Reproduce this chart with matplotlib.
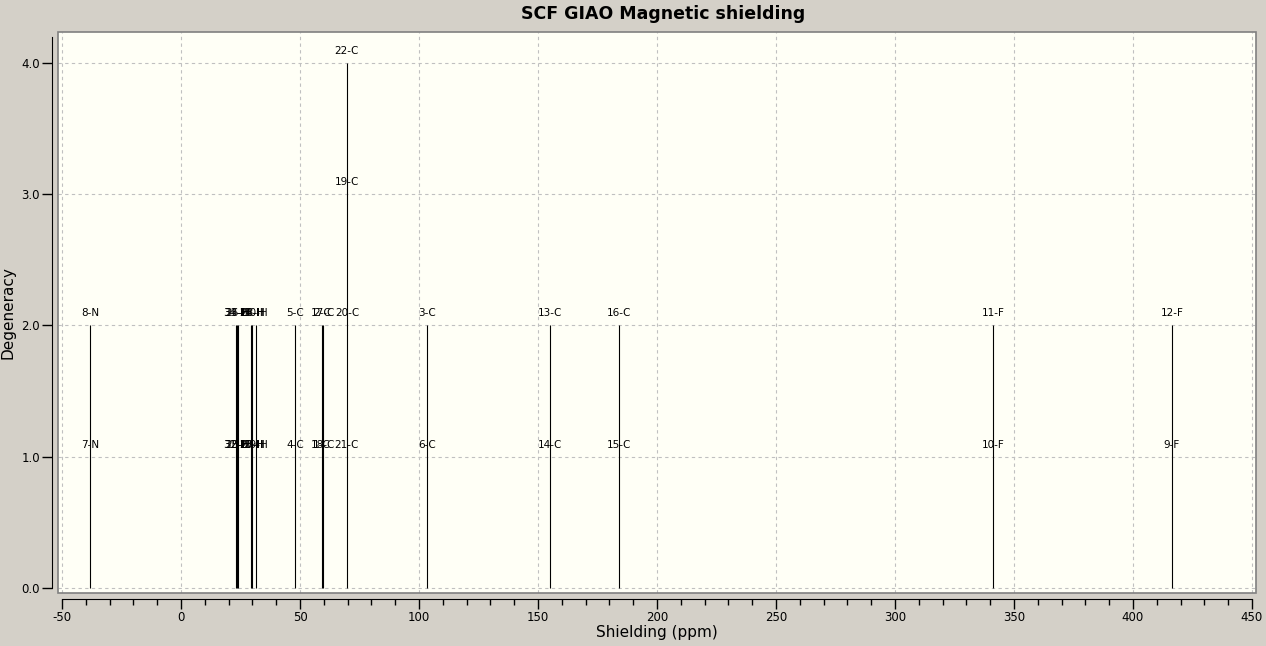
import numpy as np
import matplotlib.pyplot as plt
from matplotlib.patches import Rectangle

plt.rcParams["axes.unicode_minus"] = False

# peak positions (ppm) and the atoms sitting on each one (stacked = degeneracy)
peak_ppm = [-38.2, 23.1, 23.5, 23.9, 29.6, 30.0, 31.4, 48.0, 59.2, 59.7,
            69.7, 103.4, 155.0, 184.0, 341.2, 416.4]
peak_atoms = [
    ["7-N", "8-N"],
    ["31-H", "34-H"],
    ["32-H", "33-H"],
    ["25-H", "26-H"],
    ["23-H", "24-H"],
    ["27-H", "28-H"],
    ["29-H", "30-H"],
    ["4-C", "5-C"],
    ["1-C", "2-C"],
    ["18-C", "17-C"],
    ["21-C", "20-C", "19-C", "22-C"],
    ["6-C", "3-C"],
    ["14-C", "13-C"],
    ["15-C", "16-C"],
    ["10-F", "11-F"],
    ["9-F", "12-F"],
]
degeneracy = [len(a) for a in peak_atoms]

x_ticks = np.arange(-50, 451, 50)
y_ticks = [0.0, 1.0, 2.0, 3.0, 4.0]

W, H = 1266, 646
fig = plt.figure(figsize=(W / 100, H / 100), dpi=100)
fig.patch.set_facecolor("#D4D0C8")

# plot area in pixels: left 58, top 32, right 1256, bottom 593
ax = fig.add_axes([58 / W, 1 - 593 / H, (1256 - 58) / W, (593 - 32) / H])
ax.set_facecolor("#FFFFF6")
ax.set_xlim(-51.7, 451.7)
ax.set_ylim(-0.04, 4.235)

ax.grid(True, color="#C0C0C0", linestyle=(0, (3, 3)), linewidth=0.8)
ax.set_axisbelow(True)

ax.vlines(peak_ppm, 0, degeneracy, color="black", linewidth=0.8)
for x, atoms in zip(peak_ppm, peak_atoms):
    for k, lab in enumerate(atoms):
        ax.annotate(lab, (x, k + 1), xytext=(0, 7), textcoords="offset pixels",
                    ha="center", va="bottom", fontsize=7.5)

for s in ["top", "right"]:
    ax.spines[s].set_visible(False)
ax.spines["bottom"].set_position(("outward", 4))
ax.spines["bottom"].set_bounds(-50, 450)
ax.spines["left"].set_position(("outward", 4))
ax.spines["left"].set_bounds(0, 4.2)

# sunken frame around the plot area
ax.add_patch(Rectangle((0, 0), 1, 1, transform=ax.transAxes, fill=False,
                       edgecolor="#808080", linewidth=1.2, clip_on=False))

ax.set_xticks(x_ticks)
ax.set_xticks(np.arange(-50, 451, 10), minor=True)
ax.set_yticks(y_ticks)
ax.set_yticklabels([f"{v:.1f}" for v in y_ticks])
ax.tick_params(axis="both", which="major", length=7, width=1, labelsize=8.5,
               direction="out", pad=2)
ax.tick_params(axis="x", which="minor", length=4, width=1, direction="out")

ax.set_xlabel("Shielding (ppm)", fontsize=11, labelpad=1)
ax.set_ylabel("Degeneracy", fontsize=11, labelpad=4)

fig.text(663 / W, 1 - 14 / H, "SCF GIAO Magnetic shielding", ha="center", va="center",
         fontsize=12.5, fontweight="bold")

fig.savefig("out.png", dpi=100, facecolor=fig.get_facecolor())
